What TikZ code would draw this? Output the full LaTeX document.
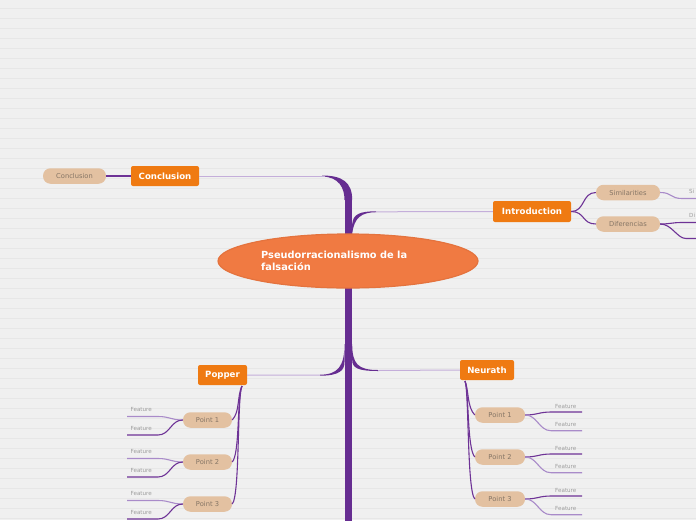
\documentclass[tikz,border=0pt]{standalone}
\usepackage{fontspec}
\setmainfont{DejaVu Sans}
\usetikzlibrary{shapes.geometric}
\definecolor{bg}{HTML}{F0F0F0}
\definecolor{bgline}{HTML}{E7E7E7}
\definecolor{trunk}{HTML}{662D91}
\definecolor{branch}{HTML}{C4AEDA}
\definecolor{link}{HTML}{6E3396}
\definecolor{linklight}{HTML}{A98BC9}
\definecolor{orangebox}{HTML}{EF7A12}
\definecolor{tanfill}{HTML}{E3C1A1}
\definecolor{tantext}{HTML}{857565}
\definecolor{feattext}{HTML}{9E9E9E}
\definecolor{rootfill}{HTML}{F07A42}
\definecolor{rootedge}{HTML}{E4733E}
\tikzset{
  topic/.style={fill=orangebox, rounded corners=2pt, text=white,
    font=\bfseries\fontsize{8.6}{10}\selectfont, inner sep=0pt},
  subbox/.style={fill=tanfill, rounded corners=7.5pt, text=tantext,
    font=\fontsize{6.7}{8}\selectfont, inner sep=0pt, minimum height=15.5pt},
  featlbl/.style={text=feattext, font=\fontsize{5.6}{6}\selectfont, inner sep=0pt, anchor=west},
  conn/.style={link, line width=1.1pt},
  connlight/.style={linklight, line width=1.1pt},
  brline/.style={branch, line width=1pt},
}
\begin{document}
\begin{tikzpicture}[x=1pt,y=-1pt]
\useasboundingbox (0,0) rectangle (696,520);
\clip (0,0) rectangle (696,520);
\fill[bg] (0,0) rectangle (696,520);
\foreach \yy in {8,18,...,518} \draw[bgline, line width=0.9pt] (0,\yy) -- (696,\yy);

% trunk
\fill[trunk] (344.5,195) rectangle (352.2,521);
% coordinates for branch ends
\coordinate (cConc) at (325,176);
\coordinate (cIntro) at (376,211.8);
\coordinate (cPop) at (320,375.2);
\coordinate (cNeu) at (378,370.5);
% wedges
\fill[trunk] (322,175.5) .. controls (342,175.5) and (352.2,182) .. (352.2,200) -- (344.5,200) .. controls (344.5,188) and (339,176.8) .. (322,176.5) -- cycle;
\fill[trunk] (352.2,224) .. controls (353,214) and (360,211.3) .. (376,211.3) -- (376,212.2) .. controls (362,212.4) and (354,217) .. (352.2,234) -- cycle;
\fill[trunk] (344.5,344) .. controls (344.5,366) and (338,374.7) .. (320,374.7) -- (320,375.7) .. controls (340,375.7) and (344.5,370) .. (344.5,362) -- cycle;
\fill[trunk] (352.2,344) .. controls (352.2,364) and (358,370) .. (378,370) -- (378,371) .. controls (358,371) and (352.2,368) .. (352.2,360) -- cycle;

% main topics
\node[topic, minimum width=68pt, minimum height=20pt] (conc) at (165,176) {Conclusion};
\node[topic, minimum width=78pt, minimum height=21pt] (intro) at (532,211.5) {Introduction};
\node[topic, minimum width=49pt, minimum height=20pt] (popper) at (222.5,375) {Popper};
\node[topic, minimum width=54pt, minimum height=20pt] (neurath) at (487,370) {Neurath};

\draw[brline] (conc.east) -- (cConc);
\draw[brline] (cIntro) -- (intro.west);
\draw[brline] (cPop) -- (popper.east);
\draw[brline] (cNeu) -- (neurath.west);

% root
\node[ellipse, fill=rootfill, draw=rootedge, line width=1.2pt, minimum width=260pt, minimum height=54pt] (root) at (348,261) {};
\node[text=white, font=\bfseries\fontsize{9.8}{12.5}\selectfont, align=left, anchor=north west, inner sep=0pt] (roottext) at (261,250.5) {Pseudorracionalismo de la\\falsación};

% conclusion sub
\node[subbox, minimum width=63pt] (concsub) at (74.5,176) {Conclusion};
\draw[conn] (concsub.east) -- (conc.west);

% introduction subs
\node[subbox, minimum width=64pt] (sim) at (628,192.5) {Similarities};
\node[subbox, minimum width=64pt] (dif) at (628,224) {Diferencias};
\draw[conn] (intro.east) .. controls +(14,0) and +(-14,0) .. (sim.west);
\draw[conn] (intro.east) .. controls +(14,0) and +(-14,0) .. (dif.west);
\coordinate (simA) at (682,198.5);
\coordinate (simB) at (697,198.5);
\coordinate (difA) at (682,222.5);
\coordinate (difB) at (697,222.5);
\coordinate (difC) at (686,238.5);
\coordinate (difD) at (697,238.5);
\draw[connlight] (sim.east) .. controls +(12,0) and +(-12,0) .. (simA) -- (simB);
\draw[conn] (dif.east) .. controls +(10,0) and +(-10,0) .. (difA) -- (difB);
\draw[conn] (dif.east) .. controls (672,224) and (677,238.5) .. (difC) -- (difD);
\node[featlbl] (simlbl) at (689,191.5) {Si};
\node[featlbl] (diflbl) at (689,215.5) {Di};

% Popper points
\coordinate (popStart) at (242,386);
\foreach \i/\yy in {1/420,2/462,3/504}{
  \node[subbox, minimum width=49pt] (pp\i) at (207.5,\yy) {Point \i};
  \draw[conn] (popStart) .. controls (237,396) and (240,\yy-8) .. (pp\i.east);
  \coordinate (pa\i) at (158,\yy-3.5);
  \coordinate (pb\i) at (127,\yy-3.5);
  \coordinate (pc\i) at (158,\yy+15);
  \coordinate (pd\i) at (127,\yy+15);
  \draw[connlight] (pp\i.west) .. controls +(-12,0) and +(12,0) .. (pa\i) -- (pb\i);
  \draw[conn] (pp\i.west) .. controls +(-12,0) and +(12,0) .. (pc\i) -- (pd\i);
  \node[featlbl] (pfa\i) at (130.5,\yy-10.3) {Feature};
  \node[featlbl] (pfb\i) at (130.5,\yy+8.7) {Feature};
}

% Neurath points
\coordinate (neuStart) at (465,381);
\foreach \i/\yy in {1/415,2/457,3/499}{
  \node[subbox, minimum width=50pt] (np\i) at (500,\yy) {Point \i};
  \draw[conn] (neuStart) .. controls (469,391) and (467,\yy-8) .. (np\i.west);
  \coordinate (na\i) at (551,\yy-3);
  \coordinate (nb\i) at (582,\yy-3);
  \coordinate (nc\i) at (551,\yy+15.7);
  \coordinate (nd\i) at (582,\yy+15.7);
  \draw[conn] (np\i.east) .. controls +(12,0) and +(-12,0) .. (na\i) -- (nb\i);
  \draw[connlight] (np\i.east) .. controls +(12,0) and +(-12,0) .. (nc\i) -- (nd\i);
  \node[featlbl] (nfa\i) at (555,\yy-9) {Feature};
  \node[featlbl] (nfb\i) at (555,\yy+9.3) {Feature};
}
\end{tikzpicture}
\end{document}
